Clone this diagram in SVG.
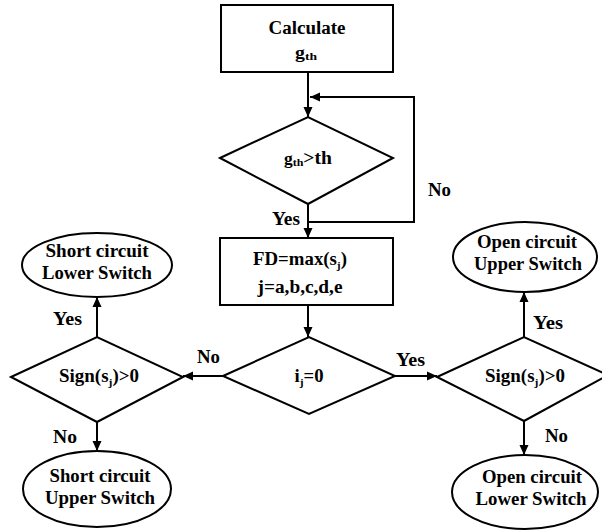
<svg xmlns="http://www.w3.org/2000/svg" width="602" height="532" viewBox="0 0 602 532">
<style>
.s{fill:#fff;stroke:#000;stroke-width:2}
.c{fill:none;stroke:#000;stroke-width:2}
.t{font-family:'Liberation Serif','DejaVu Serif','Noto Serif',serif;font-weight:bold;font-size:18px;fill:#000}
.m{text-anchor:middle}
.sub{font-size:11px}
</style>
<defs>
<marker id="ah" markerWidth="10" markerHeight="10" refX="10" refY="5" orient="auto" markerUnits="userSpaceOnUse">
<path d="M0,0.5 L10,5 L0,9.5 Z" fill="#000"/>
</marker>
</defs>
<rect width="602" height="532" fill="#fff"/>
<g id="connectors">
<line class="c" x1="308" y1="72" x2="308" y2="117" marker-end="url(#ah)"/>
<polyline class="c" points="308,222 414,222 414,97 310,97" marker-end="url(#ah)"/>
<line class="c" x1="308" y1="204" x2="308" y2="238" marker-end="url(#ah)"/>
<line class="c" x1="308" y1="305" x2="308" y2="337" marker-end="url(#ah)"/>
<line class="c" x1="223" y1="376" x2="183" y2="376" marker-end="url(#ah)"/>
<line class="c" x1="395" y1="376" x2="437" y2="376" marker-end="url(#ah)"/>
<line class="c" x1="97" y1="337" x2="97" y2="297" marker-end="url(#ah)"/>
<line class="c" x1="97" y1="422" x2="97" y2="451" marker-end="url(#ah)"/>
<line class="c" x1="524" y1="337" x2="524" y2="292" marker-end="url(#ah)"/>
<line class="c" x1="524" y1="421" x2="524" y2="455" marker-end="url(#ah)"/>
<g class="t">
<text x="272" y="225" textLength="28" lengthAdjust="spacingAndGlyphs">Yes</text>
<text x="428" y="196" textLength="23" lengthAdjust="spacingAndGlyphs">No</text>
<text x="197" y="363" textLength="23" lengthAdjust="spacingAndGlyphs">No</text>
<text x="396" y="366" textLength="29" lengthAdjust="spacingAndGlyphs">Yes</text>
<text x="53" y="325" textLength="29" lengthAdjust="spacingAndGlyphs">Yes</text>
<text x="53" y="443" textLength="24" lengthAdjust="spacingAndGlyphs">No</text>
<text x="533" y="329" textLength="30" lengthAdjust="spacingAndGlyphs">Yes</text>
<text x="545" y="442" textLength="23" lengthAdjust="spacingAndGlyphs">No</text>
</g>
</g>
<g id="calc">
<rect class="s" x="221" y="5" width="172" height="67"/>
<text class="t m" x="307" y="34" textLength="77" lengthAdjust="spacingAndGlyphs">Calculate</text>
<text class="t m" x="306" y="58" textLength="22" lengthAdjust="spacingAndGlyphs"><tspan font-size="16">g</tspan><tspan class="sub" dy="2">th</tspan></text>
</g>
<g id="dec1">
<polygon class="s" points="220,158 308,117 393,158 308,204"/>
<text class="t m" x="308" y="164" textLength="48" lengthAdjust="spacingAndGlyphs"><tspan font-size="16">g</tspan><tspan class="sub" dy="2">th</tspan><tspan dy="-2">&gt;th</tspan></text>
</g>
<g id="fd">
<rect class="s" x="220" y="238" width="173" height="67"/>
<text class="t m" x="300" y="265" textLength="94" lengthAdjust="spacingAndGlyphs">FD=max(s<tspan class="sub" dy="4">j</tspan><tspan dy="-4">)</tspan></text>
<text class="t m" x="300" y="293" textLength="85" lengthAdjust="spacingAndGlyphs">j=a,b,c,d,e</text>
</g>
<g id="dec2">
<polygon class="s" points="223,376 309,337 395,376 309,414"/>
<text class="t m" x="309" y="382" textLength="29" lengthAdjust="spacingAndGlyphs">i<tspan class="sub" dy="4">j</tspan><tspan dy="-4">=0</tspan></text>
</g>
<g id="decL">
<polygon class="s" points="11,377 97,337 183,377 97,422"/>
<text class="t m" x="99" y="382" textLength="80" lengthAdjust="spacingAndGlyphs">Sign(s<tspan class="sub" dy="4">j</tspan><tspan dy="-4">)&gt;0</tspan></text>
</g>
<g id="decR">
<polygon class="s" points="437,377 524,337 608,375 524,421"/>
<text class="t m" x="525" y="382" textLength="80" lengthAdjust="spacingAndGlyphs">Sign(s<tspan class="sub" dy="4">j</tspan><tspan dy="-4">)&gt;0</tspan></text>
</g>
<g id="scLower">
<ellipse class="s" cx="97" cy="265" rx="75" ry="32"/>
<text class="t m" x="97" y="257" textLength="103" lengthAdjust="spacingAndGlyphs">Short circuit</text>
<text class="t m" x="97" y="279" textLength="110" lengthAdjust="spacingAndGlyphs">Lower Switch</text>
</g>
<g id="scUpper">
<ellipse class="s" cx="97" cy="489" rx="74" ry="38"/>
<text class="t m" x="100" y="482" textLength="101" lengthAdjust="spacingAndGlyphs">Short circuit</text>
<text class="t m" x="100" y="504" textLength="110" lengthAdjust="spacingAndGlyphs">Upper Switch</text>
</g>
<g id="ocUpper">
<ellipse class="s" cx="525" cy="257" rx="72" ry="35"/>
<text class="t m" x="527" y="248" textLength="100" lengthAdjust="spacingAndGlyphs">Open circuit</text>
<text class="t m" x="528" y="270" textLength="108" lengthAdjust="spacingAndGlyphs">Upper Switch</text>
</g>
<g id="ocLower">
<ellipse class="s" cx="525" cy="492" rx="73" ry="37"/>
<text class="t m" x="532" y="483" textLength="100" lengthAdjust="spacingAndGlyphs">Open circuit</text>
<text class="t m" x="531" y="505" textLength="111" lengthAdjust="spacingAndGlyphs">Lower Switch</text>
</g>
</svg>
